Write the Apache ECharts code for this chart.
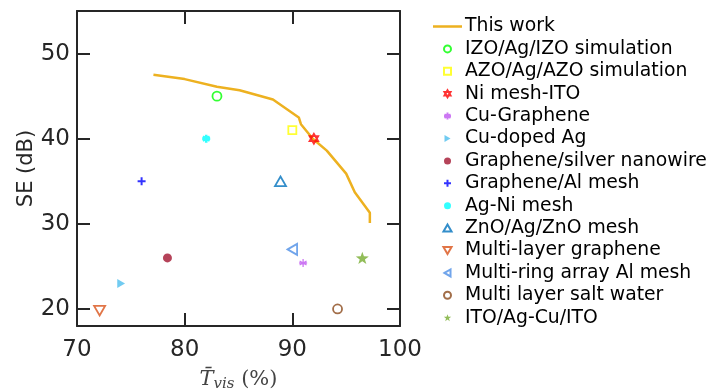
<!DOCTYPE html>
<html><head><meta charset="utf-8">
<script src="https://cdn.jsdelivr.net/npm/echarts@6/dist/echarts.min.js"></script>
<style>html,body{margin:0;padding:0;background:#fff}#c{width:709px;height:390px}</style>
</head><body><div id="c"></div>
<script>
// "This work" curve
const workT  = [77.1, 80.0, 83.0, 85.1, 88.2, 90.6, 90.8, 91.9, 93.2, 95.0, 95.8, 97.2, 97.2];
const workSE = [47.5, 47.0, 46.1, 45.7, 44.6, 42.5, 41.7, 40.0, 38.6, 35.9, 33.7, 31.3, 30.1];

// comparison works
const refNames = ['IZO/Ag/IZO simulation','AZO/Ag/AZO simulation','Ni mesh-ITO','Cu-Graphene','Cu-doped Ag',
  'Graphene/silver nanowire','Graphene/Al mesh','Ag-Ni mesh','ZnO/Ag/ZnO mesh','Multi-layer graphene',
  'Multi-ring array Al mesh','Multi layer salt water','ITO/Ag-Cu/ITO'];
const refT  = [83.0, 90.0, 92.0, 91.0, 74.1, 78.4, 76.0, 82.0, 88.9, 72.1, 90.0, 94.2, 96.5];
const refSE = [45.0, 41.0, 40.0, 25.4, 23.0, 26.0, 35.0, 40.0, 35.0, 19.8, 27.0, 20.0, 26.0];

const xTicks = [70, 80, 90, 100];
const yTicks = [20, 30, 40, 50];

const hexagram = 'path://M0,-10L8.66,5L-8.66,5Z M0,10L8.66,-5L-8.66,-5Z';
const asterisk = 'path://M0,-10L0,10M-8.66,-5L8.66,5M-8.66,5L8.66,-5M-10,0L10,0';
const plus = 'path://M0,-10L0,10M-10,0L10,0';
const star = 'path://M0,-10L2.35,-3.24L9.51,-3.09L3.8,1.24L5.88,8.09L0,4L-5.88,8.09L-3.8,1.24L-9.51,-3.09L-2.35,-3.24Z';
const square = 'path://M-10,-10L10,-10L10,10L-10,10Z';
const triUp = 'path://M0,-10L10,7.3L-10,7.3Z';
const triDown = 'path://M0,10L10,-7.3L-10,-7.3Z';
const triLeft = 'path://M-10,0L7.3,-10L7.3,10Z';
const triRight = 'path://M10,0L-7.3,10L-7.3,-10Z';

const styles = [
  {symbol:'circle', size:9, color:'#00FF00', hollow:true},
  {symbol:square, size:8, color:'#FFFF00', hollow:true},
  {symbol:hexagram, size:10, color:'#FF0000', hollow:true},
  {symbol:asterisk, size:8, color:'#BF55F0', line:true, bw:1.3},
  {symbol:triRight, size:9, color:'#4DBEEE', hollow:false},
  {symbol:'circle', size:9, color:'#A2142F', hollow:false},
  {symbol:plus, size:8, color:'#0000FF', line:true, bw:2},
  {symbol:asterisk, size:8, color:'#00FFFF', line:true, bw:2.6, legendIcon:'circle'},
  {symbol:triUp, size:11, color:'#0072BD', hollow:true},
  {symbol:triDown, size:11, color:'#D95319', hollow:true},
  {symbol:triLeft, size:11, color:'#4D8FE6', hollow:true},
  {symbol:'circle', size:9, color:'#8B4A1C', hollow:true},
  {symbol:star, size:13, color:'#77AC30', hollow:false}
];

const series = [{
  name:'This work', type:'line', data: workT.map((t,i)=>[t, workSE[i]]),
  showSymbol:false, symbol:'none', lineStyle:{color:'#EDB120', width:2.5}, itemStyle:{color:'#EDB120'}, z:1
}];
refNames.forEach((n,i)=>{
  const s = styles[i];
  let itemStyle;
  if (s.line) itemStyle = {color:'rgba(0,0,0,0)', borderColor:s.color, borderWidth:s.bw};
  else if (s.hollow) itemStyle = {color:'rgba(0,0,0,0)', borderColor:s.color, borderWidth:1.8};
  else itemStyle = {color:s.color, borderColor:s.color, borderWidth:0};
  series.push({name:n, type:'scatter', data:[[refT[i], refSE[i]]], symbol:s.symbol, symbolSize:s.size,
    symbolKeepAspect:true, itemStyle, z:3});
});

const axisCommon = {
  axisLine:{show:true, lineStyle:{color:'#262626', width:2}},
  axisTick:{show:true, inside:true, length:13, lineStyle:{color:'#262626', width:2}},
  splitLine:{show:false}
};

const legendData = [{name:'This work', icon:'path://M0,0L30,0L30,2.6L0,2.6Z'}]
  .concat(refNames.map((n,i)=> styles[i].legendIcon
    ? {name:n, icon:styles[i].legendIcon, itemStyle:{color:styles[i].color, borderWidth:0}}
    : {name:n}));

const chart = echarts.init(document.getElementById('c'));
chart.setOption({
  animation:false,
  grid:{left:77, right:309, top:11, bottom:64, outerBoundsMode:'none', containLabel:false},
  legend:{
    orient:'vertical', left:433, top:17, padding:0, itemWidth:29, itemHeight:7, itemGap:3.4,
    symbolKeepAspect:true,
    textStyle:{fontFamily:'DejaVu Sans', fontSize:18.8, color:'#000', padding:[0,0,0,-2]},
    data: legendData
  },
  xAxis:[
    Object.assign({type:'value', min:70, max:100, interval:10, position:'bottom',
      name:'{t|T\u0304}{s|vis}{p| (%)}', nameLocation:'middle', nameGap:42,
      nameTextStyle:{rich:{
        t:{fontFamily:'DejaVu Serif', fontStyle:'italic', fontSize:21, color:'#444'},
        s:{fontFamily:'DejaVu Serif', fontStyle:'italic', fontSize:15, color:'#444', padding:[9,0,0,0]},
        p:{fontFamily:'DejaVu Serif', fontSize:21, color:'#444'}}},
      axisLabel:{fontFamily:'DejaVu Sans', fontSize:23, color:'#262626', margin:13, customValues:xTicks}}, axisCommon),
    Object.assign({type:'value', min:70, max:100, interval:10, position:'top', axisLabel:{show:false}}, axisCommon)
  ],
  yAxis:[
    Object.assign({type:'value', min:18, max:55, position:'left',
      name:'SE (dB)', nameLocation:'middle', nameGap:40, nameRotate:90,
      nameTextStyle:{fontFamily:'DejaVu Sans', fontSize:21, color:'#262626'},
      axisLabel:{fontFamily:'DejaVu Sans', fontSize:23, color:'#262626', margin:7, customValues:yTicks}},
      axisCommon, {axisTick:Object.assign({}, axisCommon.axisTick, {customValues:yTicks})}),
    Object.assign({type:'value', min:18, max:55, position:'right', axisLabel:{show:false}},
      axisCommon, {axisTick:Object.assign({}, axisCommon.axisTick, {customValues:yTicks})})
  ],
  series
});
</script></body></html>
